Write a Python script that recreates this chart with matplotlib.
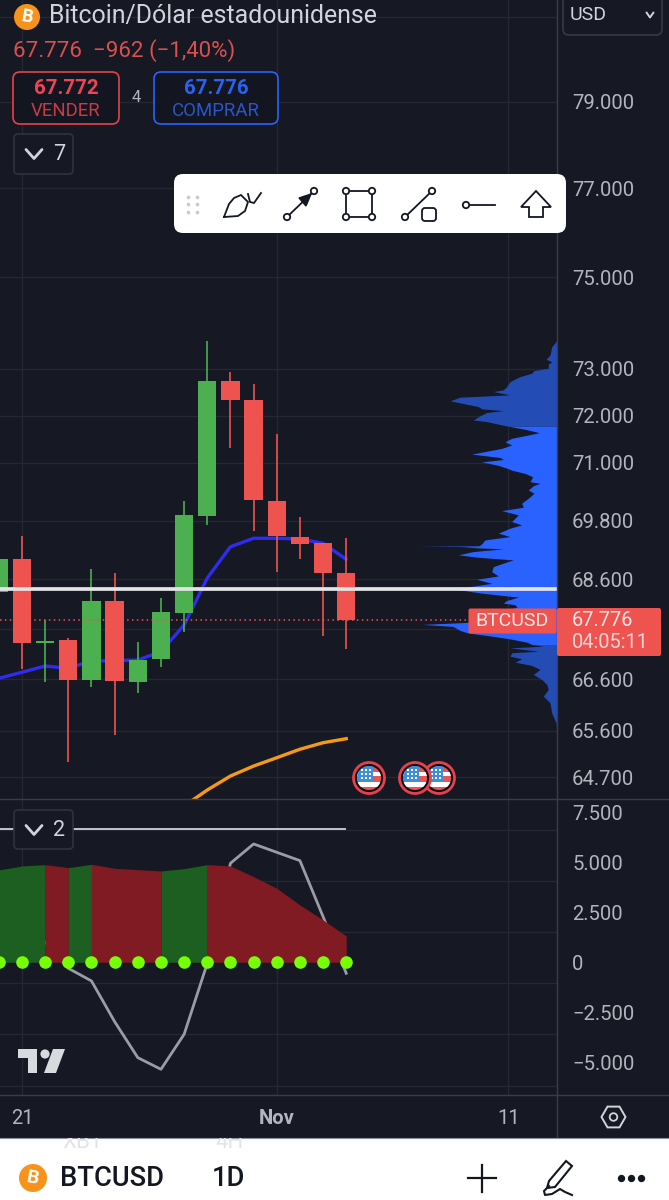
import numpy as np
from matplotlib import pyplot as plt
from matplotlib.patches import Circle, FancyBboxPatch, Polygon, Rectangle, RegularPolygon

plt.rcParams['font.family'] = ['Roboto', 'DejaVu Sans']

# Data (days counted from 21 Oct)
days = [-1, 0, 1, 2, 3, 4, 5, 6, 7, 8, 9, 10, 11, 12, 13, 14]
opens = [68349, 69006, 67327, 67375, 66589, 68156, 66555, 66997, 67926, 69905, 72740, 72332, 70200, 69465, 69340, 68734]
highs = [69006, 69483, 67780, 67415, 68803, 68722, 67347, 68228, 70212, 73598, 72941, 72669, 71603, 69881, 69340, 69442]
lows = [68349, 66805, 66555, 64988, 66457, 65516, 66340, 66839, 67540, 69710, 71314, 69592, 68754, 69006, 67460, 67195]
closes = [69006, 67327, 67367, 66589, 68156, 66569, 66989, 67934, 69919, 72740, 72326, 70226, 69483, 69319, 68722, 67776]
ema_fast = [66622, 66742, 66865, 66820, 66964, 66970, 66984, 67148, 67680, 68626, 69264, 69437, 69437, 69422, 69334, 69006]
ema_slow_days = [7, 8, 9, 10, 11, 12, 13, 14]
ema_slow = [64155, 64459, 64726, 64917, 65077, 65240, 65366, 65444]
last_price = 67776
white_level = 68403

price_ticks = [79000, 77000, 75000, 73000, 72000, 71000, 69800, 68600, 66600, 65600, 64700]
price_labels = ['79.000', '77.000', '75.000', '73.000', '72.000', '71.000', '69.800', '68.600', '66.600', '65.600', '64.700']
covered_levels = [81000, 67600]  # their labels sit under the USD box and the price tag
date_ticks = [0, 11, 21]
date_labels = ['21', 'Nov', '11']

vp_price = [73621, 73477, 73300, 73208, 73156, 73107, 73015, 72964, 72908, 72835, 72728, 72621, 72550, 72514, 72443,
            72394, 72315, 72265, 72193, 72144, 72108, 72066, 71996, 71908, 71872, 71781, 71710, 71638, 71589, 71519,
            71447, 71377, 71306, 71186, 71115, 71072, 71023, 70950, 70880, 70849, 70781, 70710, 70607, 70574, 70524,
            70435, 70367, 70263, 70160, 70077, 70007, 69918, 69850, 69780, 69712, 69644, 69542, 69472, 69404, 69323,
            69282, 69275, 69267, 69255, 69220, 69165, 69098, 69051, 68995, 68928, 68858, 68756, 68668, 68600, 68518,
            68448, 68386, 68320, 68240, 68172, 68120, 68086, 68040, 67732, 67692, 67652, 67572, 67520, 67468, 67403,
            67336, 67291, 67258, 67224, 67158, 67127, 67060, 67008, 66941, 66876, 66797, 66699, 66600, 66502, 66404,
            66273, 66143, 65947, 65751, 65652]
vp_vol = [0, 5.3, 7, 11, 5.3, 8.7, 8.7, 23, 25.3, 37, 47, 50.3, 53.7, 63.7, 47,
          97, 107, 95.3, 78.7, 75.3, 53.7, 70.3, 77, 83.7, 70.3, 50.3, 32, 17.7, 28.7, 45.3,
          52, 45.3, 55.3, 85.3, 57, 53.7, 75.3, 58.7, 48.7, 45.3, 32, 24.3, 27, 17, 23.7,
          28.7, 23, 28.7, 35.3, 33.7, 55.3, 38.7, 42, 45.3, 35.3, 47, 58.7, 47, 72, 75.3,
          78, 139, 78, 95.3, 53.7, 83.7, 98.7, 80.3, 43.7, 53.7, 63.7, 65.3, 58.7, 80.3, 65.3,
          88.7, 97, 75.3, 38.7, 50.3, 53.7, 42, 40, 90, 135, 104, 97, 89, 69, 47,
          30, 25, 13.7, 47, 18.7, 45.3, 47, 35.3, 42, 25.3, 17, 23.7, 15.3, 10.3, 8.7,
          13.7, 7, 5.3, 1, 0.5]
va_high = 71781
va_low = 67291

hist = [4617, 4817, 4883, 4733, 4900, 4700, 4633, 4567, 4683, 4883, 4817, 4283, 3700, 2867, 2117, 1317]
hist_up = [1, 1, 1, 0, 1, 0, 0, 0, 1, 1, 0, 0, 0, 0, 0, 0]
osc_days = [1, 2, 3, 4, 5, 6, 7, 8, 9, 10, 11, 12, 13, 14]
osc = [1000, -300, -933, -2967, -4767, -5350, -3600, -50, 4950, 5917, 5500, 5083, 2283, -550]
level_line = 6650
sub_ticks = [7500, 5000, 2500, 0, -2500, -5000]
sub_labels = ['7.500', '5.000', '2.500', '0', '\u22122.500', '\u22125.000']
sub_grid = [6630, 4080, 1530, -1050, -3600, -6170]

BG = '#161823'
GRID = '#252833'
FRAME = '#3a3d49'
TXT = '#b2b5be'
GREEN = '#4caf50'
RED = '#ef5350'
BLUE = '#2962ff'

W, H = 669, 1200
fig = plt.figure(figsize=(W / 100, H / 100), dpi=100, facecolor=BG)

# Price pane
ax = fig.add_axes([0, 1 - 799 / H, 557 / W, 799 / H], facecolor=BG)
ax.set_yscale('log')
ax.set_xlim(-0.95, 23.1)
ax.set_ylim(64288, 81409)
ax.yaxis.tick_right()
ax.set_yticks(price_ticks, labels=price_labels)
ax.minorticks_off()
ax.set_xticks(date_ticks, labels=[])
ax.tick_params(axis='both', length=0, labelsize=14.6, labelcolor=TXT, pad=10.8)
ax.grid(color=GRID, lw=1)
ax.set_axisbelow(True)
for s in ax.spines.values():
    s.set_visible(False)
for g in covered_levels:
    ax.axhline(g, color=GRID, lw=1, zorder=0)

ax.plot(days, ema_fast, color='#2f2cf0', lw=2.4, zorder=2, solid_capstyle='round')
ax.plot(ema_slow_days, ema_slow, color='#f59a12', lw=2.4, zorder=2)

for d, o, h, l, c in zip(days, opens, highs, lows, closes):
    col = GREEN if c >= o else RED
    ax.vlines(d, l, h, color=col, lw=1.2, zorder=3)
    ax.bar(d, abs(c - o), bottom=min(o, c), width=0.79, color=col, lw=0, zorder=4)

# Volume profile on its own x scale, drawn from the right edge
vp = ax.twiny()
vp.set_xlim(557, 0)
vp.set_xticks([])
for s in vp.spines.values():
    s.set_visible(False)
p = np.array(vp_price)
v = np.array(vp_vol)
inside = (p <= va_high) & (p >= va_low)
vp.fill_betweenx(p, 0, v, where=inside, color=BLUE, lw=0)
vp.fill_betweenx(p, 0, v, where=p >= va_high, color='#234db4', lw=0)
vp.fill_betweenx(p, 0, v, where=p <= va_low, color='#234db4', lw=0)
vp.axhline(white_level, color='#e3e3e6', lw=2.7, zorder=5)
vp.axhline(last_price, color=RED, lw=1.1, ls=(0, (1, 2.2)), zorder=5)

# Oscillator pane
sub = fig.add_axes([0, 1 - 1095 / H, 557 / W, 296 / H], facecolor=BG)
sub.set_xlim(-0.95, 23.1)
sub.set_ylim(-6635, 8165)
sub.yaxis.tick_right()
sub.set_yticks(sub_ticks, labels=sub_labels)
sub.set_xticks(date_ticks, labels=date_labels)
sub.get_xticklabels()[1].set_fontweight('bold')
sub.tick_params(axis='y', length=0, labelsize=14.6, labelcolor=TXT, pad=10.8)
sub.tick_params(axis='x', length=0, labelsize=14.6, labelcolor=TXT, pad=10)
sub.xaxis.grid(color=GRID, lw=1)
sub.set_axisbelow(True)
for s in sub.spines.values():
    s.set_visible(False)
for g in sub_grid:
    sub.axhline(g, color=GRID, lw=1, zorder=0)
sub.hlines(level_line, -0.95, 14, color='#c3c5cc', lw=1.4, zorder=1)
sub.plot(osc_days, osc, color='#9a9ca6', lw=2, zorder=2)
# one polygon per run of same colour, so no seams show inside a run
start = 0
for i in range(1, len(days)):
    if i == len(days) - 1 or hist_up[i + 1] != hist_up[i]:
        col = '#1c5f20' if hist_up[i] else '#801a23'
        sub.fill_between(days[start:i + 1], 0, hist[start:i + 1], color=col, lw=0, zorder=3)
        start = i
sub.scatter(days, [0] * len(days), s=82, color='#76ff03', lw=0, zorder=4)

# Screen furniture, in pixel coordinates
ui = fig.add_axes([0, 0, 1, 1], facecolor='none', zorder=10)
ui.set_xlim(0, W)
ui.set_ylim(H, 0)
ui.axis('off')


def rbox(x0, y0, x1, y1, r, fc, ec='none', lw=1.2, z=2):
    b = FancyBboxPatch((x0 + r, y0 + r), x1 - x0 - 2 * r, y1 - y0 - 2 * r, boxstyle='round,pad=%f,rounding_size=%f' % (r, r),
                       fc=fc, ec=ec, lw=lw, zorder=z)
    ui.add_patch(b)
    return b


def txt(x, y, s, size, color, ha='left', weight='normal', z=5, **kw):
    return ui.text(x, y, s, fontsize=size, color=color, ha=ha, va='center', fontweight=weight, zorder=z, **kw)


def chevron(x, y, w, h, color, lw=1.6, z=5):
    ui.plot([x - w, x, x + w], [y - h, y + h, y - h], color=color, lw=lw, zorder=z, solid_capstyle='round')


def btc_coin(x, y, r, size):
    ui.add_patch(Circle((x, y), r, fc='#f7931a', ec='none', zorder=4))
    txt(x, y, 'B', size, 'white', ha='center', weight='bold', rotation=-10)


def flag(x, y, z):
    ui.add_patch(Circle((x, y), 15.5, fc='#0d0e13', ec='#e8404c', lw=2, zorder=z))
    clip = Circle((x, y), 12, fc='#ef5350', ec='none', zorder=z)
    ui.add_patch(clip)
    for top, height in [(-6, 3.5), (4, 4.5)]:
        r = Rectangle((x - 13, y + top), 26, height, fc='white', ec='none', zorder=z)
        ui.add_patch(r)
        r.set_clip_path(clip)
    r = Rectangle((x - 13, y - 13), 17, 16, fc='#3d8fe0', ec='none', zorder=z)
    ui.add_patch(r)
    r.set_clip_path(clip)
    for dx in (-7, -3, 1):
        for dy in (-8, -4, 0):
            ui.add_patch(Rectangle((x + dx - 0.8, y + dy - 0.8), 1.6, 1.6, fc='white', ec='none', zorder=z))


# frame lines
ui.plot([557, 557], [0, 1138], color=FRAME, lw=1, zorder=1)
ui.plot([0, W], [799, 799], color=FRAME, lw=1, zorder=1)
ui.plot([0, W], [1095, 1095], color=FRAME, lw=1, zorder=1)

# header
btc_coin(27, 17, 13, 13)
txt(49, 16, 'Bitcoin/Dólar estadounidense', 17.9, '#d1d4dc')
txt(13, 51, '67.776  \u2212962 (\u22121,40%)', 16, '#d9504f')
rbox(563, -10, 662, 35, 6, BG, '#363a45')
txt(570, 15, 'USD', 14, '#d1d4dc')
chevron(650, 15, 3.5, 2.5, '#d1d4dc', 1.4)

rbox(13, 72, 119, 124, 7, '#131521', '#e5434b')
txt(66, 89, '67.772', 14.8, '#ef4552', ha='center', weight='bold')
txt(66, 111, 'VENDER', 13.4, '#c83c47', ha='center')
txt(136, 98, '4', 12, TXT, ha='center')
rbox(154, 72, 278, 124, 7, '#131521', BLUE)
txt(216, 89, '67.776', 14.8, '#2a62f2', ha='center', weight='bold')
txt(216, 111, 'COMPRAR', 13.4, '#2a56c8', ha='center')

rbox(14, 134, 73, 174, 4, BG, '#30333f')
chevron(34, 154, 8, 4.5, '#d1d4dc', 2)
txt(59, 154, '7', 15.5, '#d1d4dc', ha='center')

rbox(14, 810, 73, 849, 4, BG, '#30333f', z=6)
chevron(34, 830, 8, 4.5, '#d1d4dc', 2, z=7)
txt(59, 830, '2', 15.5, '#d1d4dc', ha='center', z=7)

# drawing toolbar
rbox(174, 174, 566, 233, 9, 'white')
ui.scatter([188, 197, 188, 197, 188, 197], [197, 197, 204, 204, 212, 212], s=7, color='#c8cad0', lw=0, zorder=3)
ink = '#131722'
ui.plot([224, 229, 234, 241, 248, 245, 238, 224], [217, 204, 198, 195, 202, 211, 216, 217], color=ink, lw=1.3, zorder=3)
ui.plot([248, 250, 254, 261], [194, 202, 203, 193], color=ink, lw=1.3, zorder=3)
ui.plot([287, 314], [217, 191], color=ink, lw=1.3, zorder=3)
ui.add_patch(Polygon([[311, 194], [299, 198], [306, 206]], fc=ink, ec=ink, zorder=3))
for cx, cy in [(287, 217), (314, 191), (346, 191), (372, 191), (346, 217), (372, 217), (405, 217), (432, 191), (466, 205)]:
    ui.add_patch(Circle((cx, cy), 3.2, fc='white', ec=ink, lw=1.3, zorder=4))
ui.add_patch(Rectangle((346, 191), 26, 26, fc='none', ec=ink, lw=1.3, zorder=3))
ui.plot([405, 432], [217, 191], color=ink, lw=1.3, zorder=3)
rbox(422, 208, 436, 221, 3, 'white', ink, 1.3, 3)
ui.plot([469, 495], [205, 205], color=ink, lw=1.3, zorder=3)
ui.add_patch(Polygon([[536, 191], [551, 207], [543, 207], [543, 217], [529, 217], [529, 207], [521, 207]], fc='white', ec=ink, lw=1.3, zorder=3))

# last price labels
ui.add_patch(FancyBboxPatch((470, 610), 85, 22, boxstyle='round,pad=1.5,rounding_size=2', fc=RED, ec='none', zorder=3))
ui.add_patch(FancyBboxPatch((559, 610), 100, 44, boxstyle='round,pad=2,rounding_size=2', fc=RED, ec='none', zorder=3))
txt(512, 621, 'BTCUSD', 14, '#fbe9e9', ha='center')
txt(572, 620, '67.776', 14.4, '#fbe9e9')
txt(572, 643, '04:05:11', 14.4, '#f7d5d5')

# event flags
flag(439, 778, 3)
flag(415, 778, 4)
flag(369, 778, 4)

# TradingView mark
logo = '#d8dae0'
ui.add_patch(Polygon([[18, 1049], [37, 1049], [37, 1073], [28, 1073], [28, 1058], [18, 1058]], fc=logo, ec='none', zorder=3))
ui.add_patch(Circle((45, 1054), 4.6, fc=logo, ec='none', zorder=3))
ui.add_patch(Polygon([[53, 1049], [65, 1049], [56, 1073], [44, 1073]], fc=logo, ec='none', zorder=3))

# settings hexagon
ui.add_patch(RegularPolygon((613.5, 1117), 6, radius=12, orientation=np.pi / 2, fc='none', ec='#d1d4dc', lw=1.4, zorder=3))
ui.add_patch(Circle((613.5, 1117), 3.8, fc='none', ec='#d1d4dc', lw=1.3, zorder=3))

# bottom bar
panel = Rectangle((0, 1138), W, 62, fc='white', ec='none', zorder=2)
ui.add_patch(panel)
ui.plot([0, W], [1138, 1138], color='#8d8f96', lw=0.8, zorder=3)
for x, s in [(83, 'XBT'), (230, '4H')]:
    t = txt(x, 1143, s, 16, '#e4e4e7', ha='center', z=3)
    t.set_clip_path(panel)
    t.set_clip_on(True)
btc_coin(33, 1178, 14, 14)
txt(60, 1179, 'BTCUSD', 19.7, '#131722', weight='medium')
txt(212, 1179, '1D', 19.7, '#131722', weight='medium')
ui.plot([468, 496], [1178, 1178], color='#131722', lw=1.6, zorder=3)
ui.plot([482, 482], [1165, 1192], color='#131722', lw=1.6, zorder=3)
ui.add_patch(Polygon([[566, 1161], [572, 1166], [555, 1187], [547, 1188], [549, 1181]], fc='white', ec='#131722', lw=1.5, zorder=3))
ui.plot([549, 544, 545, 552, 560, 565, 572], [1186, 1191, 1195, 1194, 1189, 1192, 1195], color='#131722', lw=1.5, zorder=3)
ui.scatter([621, 631, 641], [1178, 1178, 1178], s=28, color='#131722', lw=0, zorder=3)

fig.savefig('out.png', dpi=100, facecolor=BG)
